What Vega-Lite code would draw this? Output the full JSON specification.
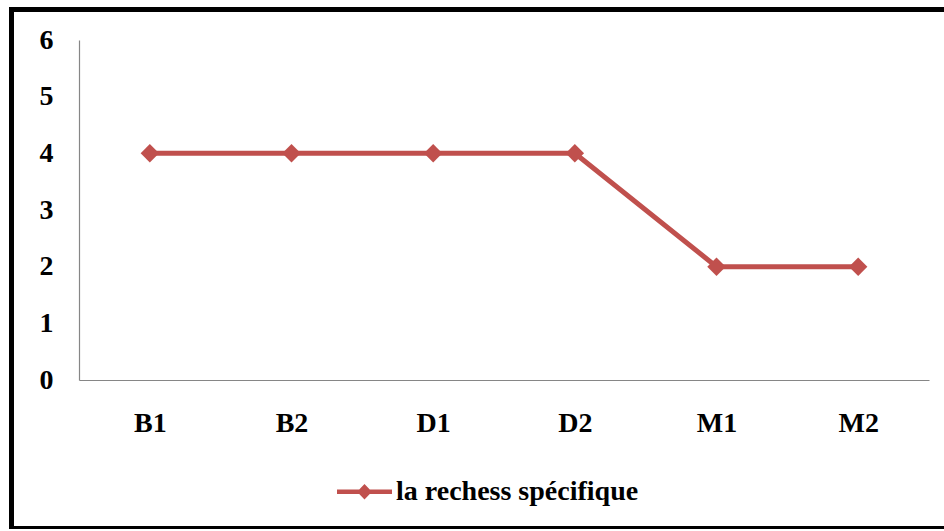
{
  "$schema": "https://vega.github.io/schema/vega-lite/v6.json",
  "width": 940,
  "height": 519,
  "autosize": {"type": "none"},
  "padding": {"left": 11.5, "top": 9.5, "right": 0, "bottom": 0},
  "background": "white",
  "config": {
    "view": {"stroke": "black", "strokeWidth": 5},
    "font": "Liberation Serif, Times New Roman, serif"
  },
  "data": {
    "values": [
      {"sample": "B1", "value": 4, "series": "la rechess spécifique"},
      {"sample": "B2", "value": 4, "series": "la rechess spécifique"},
      {"sample": "D1", "value": 4, "series": "la rechess spécifique"},
      {"sample": "D2", "value": 4, "series": "la rechess spécifique"},
      {"sample": "M1", "value": 2, "series": "la rechess spécifique"},
      {"sample": "M2", "value": 2, "series": "la rechess spécifique"}
    ]
  },
  "mark": {
    "type": "line",
    "strokeWidth": 5,
    "point": {"shape": "diamond", "size": 340, "filled": true, "opacity": 1}
  },
  "encoding": {
    "x": {
      "field": "sample",
      "type": "nominal",
      "sort": null,
      "scale": {"type": "point", "padding": 0.5, "range": [67.5, 917.5]},
      "axis": {
        "title": null,
        "orient": "bottom",
        "offset": -148.5,
        "labelAngle": 0,
        "ticks": false,
        "grid": false,
        "domainColor": "#868686",
        "domainWidth": 1.2,
        "labelFont": "Liberation Serif, Times New Roman, serif",
        "labelFontSize": 28,
        "labelFontWeight": "bold",
        "labelColor": "black",
        "labelBaseline": "middle",
        "labelPadding": 43.5
      }
    },
    "y": {
      "field": "value",
      "type": "quantitative",
      "scale": {"domain": [0, 6], "range": [370.5, 30.5], "nice": false, "zero": true},
      "axis": {
        "title": null,
        "orient": "left",
        "offset": -67.5,
        "values": [0, 1, 2, 3, 4, 5, 6],
        "ticks": false,
        "grid": false,
        "domainColor": "#868686",
        "domainWidth": 1.2,
        "labelFont": "Liberation Serif, Times New Roman, serif",
        "labelFontSize": 28,
        "labelFontWeight": "bold",
        "labelColor": "black",
        "labelPadding": 26
      }
    },
    "color": {
      "field": "series",
      "type": "nominal",
      "scale": {"range": ["#C0504D"]},
      "legend": {
        "title": null,
        "orient": "none",
        "legendX": 325.5,
        "legendY": 454.7,
        "padding": 0,
        "symbolType": "M-1,-0.08H1V0.08H-1Z M0,-0.28L0.27,0L0,0.28L-0.27,0Z",
        "symbolSize": 3025,
        "labelOffset": 4,
        "labelLimit": 0,
        "labelFont": "Liberation Serif, Times New Roman, serif",
        "labelFontSize": 28,
        "labelFontWeight": "bold",
        "labelColor": "black",
        "encode": {
          "symbols": {
            "update": {
              "fill": {"value": "#C0504D"},
              "stroke": {"value": "transparent"},
              "strokeWidth": {"value": 0},
              "opacity": {"value": 1}
            }
          }
        }
      }
    }
  }
}
